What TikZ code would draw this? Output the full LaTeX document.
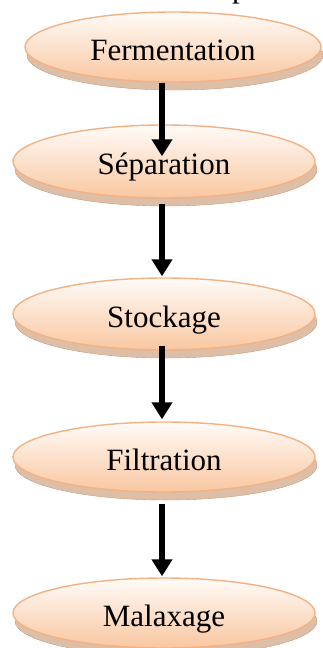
\documentclass[tikz,border=0pt]{standalone}
\usepackage{fontspec}
\setmainfont{Liberation Serif}
\usetikzlibrary{shapes.geometric,arrows.meta,patterns,shadows}

\definecolor{stageedge}{RGB}{244,177,131}
\definecolor{stagetop}{RGB}{255,251,248}
\definecolor{stagebottom}{RGB}{249,199,160}
\definecolor{rimfill}{RGB}{226,190,160}
\definecolor{rimline}{RGB}{176,116,76}

\begin{document}
\begin{tikzpicture}[x=1pt,y=-1pt,
  stage/.style={ellipse, draw=stageedge, line width=1.4pt,
    top color=stagetop, bottom color=stagebottom,
    general shadow={fill=rimfill, draw=rimline!80, line width=0.4pt,
      shadow xshift=2pt, shadow yshift=-8pt},
    general shadow={pattern=crosshatch, pattern color=rimline!45,
      shadow xshift=2pt, shadow yshift=-8pt},
    minimum width=302pt, minimum height=72pt, inner sep=0pt,
    text height=28pt, text depth=1.5pt,
    font=\fontsize{31}{31}\selectfont},
  flow/.style={line width=6.8pt, -{Triangle[width=20pt,length=17pt]}}
]
\useasboundingbox (0,0) rectangle (323,648);

% tail of the heading line above the chart
\node[anchor=base west, inner sep=0pt, font=\fontsize{31}{31}\selectfont]
  (heading) at (232,-3) {p};

% process stages
\node[stage, minimum width=296pt, minimum height=70pt] (fer) at (173,47) {Fermentation};
\node[stage, minimum height=73pt] (sep) at (164,161.5) {Séparation};
\node[stage] (sto) at (164,314) {Stockage};
\node[stage, minimum height=70pt] (fil) at (164,457) {Filtration};
\node[stage, minimum height=70pt] (mal) at (164,613) {Malaxage};

% flow arrows
\draw[flow] ([xshift=-11pt]fer.south) -- ([xshift=-2pt,yshift=-32pt]sep.north);
\draw[flow] ([xshift=-2pt,yshift=-5pt]sep.south) -- ([xshift=-2pt,yshift=1pt]sto.north);
\draw[flow] ([xshift=-2pt,yshift=5pt]sto.south) -- ([xshift=-2pt,yshift=2pt]fil.north);
\draw[flow] ([xshift=-2pt,yshift=-11pt]fil.south) -- ([xshift=-2pt,yshift=1pt]mal.north);
\end{tikzpicture}
\end{document}
